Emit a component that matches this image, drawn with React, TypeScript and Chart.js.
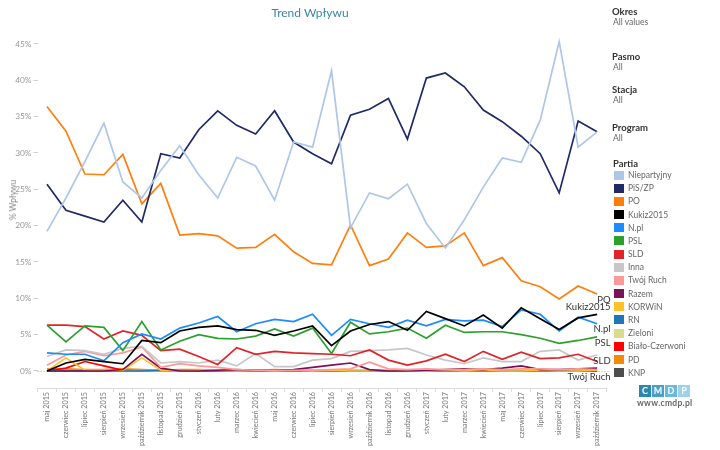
import React, { useEffect, useRef } from "react";
import { Chart, registerables } from "chart.js";

Chart.register(...registerables);

const months = [
  "maj 2015", "czerwiec 2015", "lipiec 2015", "sierpień 2015", "wrzesień 2015", "październik 2015",
  "listopad 2015", "grudzień 2015", "styczeń 2016", "luty 2016", "marzec 2016", "kwiecień 2016",
  "maj 2016", "czerwiec 2016", "lipiec 2016", "sierpień 2016", "wrzesień 2016", "październik 2016",
  "listopad 2016", "grudzień 2016", "styczeń 2017", "luty 2017", "marzec 2017", "kwiecień 2017",
  "maj 2017", "czerwiec 2017", "lipiec 2017", "sierpień 2017", "wrzesień 2017", "październik 2017",
];

const niepartyjny = [19.2, 23.8, 28.8, 34.1, 26.0, 23.8, 27.6, 31.0, 27.0, 23.8, 29.4, 28.2, 23.5, 31.5, 30.8, 41.3, 19.7, 24.5, 23.7, 25.7, 20.3, 16.9, 20.8, 25.3, 29.3, 28.7, 34.5, 45.3, 30.8, 32.9];
const pisZp = [25.7, 22.1, 21.3, 20.5, 23.5, 20.5, 29.9, 29.3, 33.2, 35.8, 33.8, 32.6, 35.8, 31.5, 29.9, 28.5, 35.2, 36.0, 37.5, 31.9, 40.3, 41.0, 39.1, 35.9, 34.3, 32.3, 29.9, 24.5, 34.4, 32.9];
const po = [36.4, 33.0, 27.1, 27.0, 29.8, 23.0, 25.8, 18.7, 18.9, 18.6, 16.9, 17.0, 18.8, 16.4, 14.8, 14.6, 20.1, 14.5, 15.4, 19.0, 17.0, 17.2, 19.0, 14.5, 15.6, 12.4, 11.6, 9.9, 11.7, 10.6];
const kukiz = [0, 1.1, 1.6, 1.3, 1.0, 4.2, 3.9, 5.5, 6.0, 6.2, 5.7, 5.6, 4.9, 5.5, 6.2, 3.5, 5.5, 6.4, 6.8, 5.6, 8.2, 7.2, 6.2, 7.7, 5.9, 8.7, 7.2, 5.7, 7.3, 7.8];
const npl = [2.5, 2.3, 2.3, 1.4, 3.9, 5.1, 4.4, 5.9, 6.6, 7.5, 5.4, 6.5, 7.1, 6.8, 7.8, 4.9, 7.1, 6.5, 6.0, 7.0, 6.2, 7.1, 6.9, 7.0, 6.1, 8.4, 7.8, 5.5, 7.4, 6.5];
const psl = [6.3, 4.0, 6.2, 6.0, 2.8, 6.8, 2.9, 4.1, 5.0, 4.5, 4.4, 4.8, 5.8, 4.8, 5.9, 2.4, 6.7, 5.1, 5.4, 5.9, 4.5, 6.3, 5.3, 5.4, 5.4, 5.0, 4.5, 3.8, 4.2, 4.7];
const sld = [6.3, 6.3, 6.1, 4.4, 5.5, 4.9, 2.8, 3.0, 2.0, 0.9, 3.2, 2.3, 2.7, 2.5, 2.4, 2.3, 2.1, 2.9, 1.5, 0.8, 1.4, 2.3, 1.3, 2.7, 1.6, 2.6, 1.7, 1.8, 2.3, 1.3];
const inna = [2.0, 2.9, 2.8, 2.3, 3.1, 3.4, 1.1, 1.3, 1.1, 1.5, 0.7, 2.4, 0.6, 0.6, 1.5, 1.7, 2.7, 2.8, 2.9, 3.1, 2.2, 1.5, 1.0, 1.8, 1.3, 1.3, 2.7, 2.9, 1.5, 2.2];
const twojRuch = [0.8, 2.2, 2.7, 2.1, 2.5, 3.3, 0.5, 1.0, 0.7, 0.5, 0.2, 0.1, 0.1, 0.1, 0.1, 0.2, 0.3, 1.2, 0.3, 0.2, 0.3, 0.2, 0.2, 0.3, 0.2, 0.3, 0.3, 0.2, 0.3, 0.2];
const razem = [0, 0, 0, 0, 0.2, 2.3, 0.4, 0, 0, 0.1, 0.2, 0.1, 0.1, 0.2, 0.5, 0.8, 1.1, 0.2, 0, 0, 0.1, 0.2, 0.3, 0.2, 0.4, 0.7, 0.2, 0.2, 0.3, 0.4];
const korwin = [0, 1.8, 0.1, 0.1, 0.1, 1.8, 0.1, 0, 0.1, 0.1, 0, 0.1, 0, 0.1, 0, 0.1, 0, 0, 0.1, 0, 0, 0.1, 0, 0.1, 0, 0, 0.1, 0, 0, 0.1];
const rn = [0, 0, 0, 0, 0, 0, 0.1, 0, 0, 0, 0, 0, 0, 0, 0, 0, 0, 0, 0, 0, 0, 0, 0, 0, 0, 0, 0, 0, 0, 0];
const zieloni = [0, 0, 0, 0, 0, 0, 0, 0, 0, 0, 0, 0, 0, 0, 0, 0, 0, 0, 0, 0, 0, 0, 0, 0, 0, 0, 0, 0, 0, 0.1];
const bialoCzerwoni = [0, 0.4, 1.3, 0.7, 0.1, 0, 0, 0, 0, 0, 0, 0, 0, 0, 0, 0, 0, 0, 0, 0, 0, 0, 0, 0, 0, 0, 0, 0, 0, 0];
const pd = [0.3, 0.3, 0.2, 0.2, 0.3, 0.2, 0.1, 0.2, 0.2, 0.1, 0.1, 0.1, 0.2, 0.1, 0.1, 0.1, 0.1, 0.1, 0.1, 0.1, 0.1, 0.1, 0.1, 0.1, 0.1, 0.1, 0.1, 0.1, 0.1, 0.1];
const knp = [0.1, 0, 0, 0, 0, 0, 0, 0, 0, 0, 0, 0, 0, 0, 0, 0, 0, 0, 0, 0, 0, 0, 0, 0, 0, 0, 0, 0, 0, 0];

const partyNames = ["Niepartyjny", "PiS/ZP", "PO", "Kukiz2015", "N.pl", "PSL", "SLD", "Inna", "Twój Ruch", "Razem", "KORWiN", "RN", "Zieloni", "Biało-Czerwoni", "PD", "KNP"];
const partyValues = [niepartyjny, pisZp, po, kukiz, npl, psl, sld, inna, twojRuch, razem, korwin, rn, zieloni, bialoCzerwoni, pd, knp];
const partyColors = ["#aec7e8", "#1f2a66", "#ff7f0e", "#000000", "#1a8cff", "#2ca02c", "#e0242a", "#c7c7c7", "#ff9896", "#7b1158", "#ffc125", "#1f77b4", "#dbdb8d", "#ff0000", "#f58a07", "#4d4d4d"];

const endLabelNames = ["PO", "Kukiz2015", "N.pl", "PSL", "SLD", "Twój Ruch"];
const yTicks = [0, 5, 10, 15, 20, 25, 30, 35, 40, 45];

const filters = [["Okres", "All values"], ["Pasmo", "All"], ["Stacja", "All"], ["Program", "All"]];
const filterTops = [6, 51, 84, 122];

const FONT = "Lato, 'Open Sans', sans-serif";

const endLabelOffsets: Record<string, number> = { PO: 6, Kukiz2015: -7, "N.pl": 5, PSL: 6, SLD: -1, "Twój Ruch": 7 };

const zeroLinePlugin = {
  id: "zeroLine",
  beforeDatasetsDraw(chart: any) {
    const { ctx, chartArea, scales } = chart;
    const y = Math.round(scales.y.getPixelForValue(0)) + 0.5;
    ctx.save();
    ctx.strokeStyle = "#a8a8a8";
    ctx.lineWidth = 1;
    ctx.setLineDash([1, 2]);
    ctx.beginPath();
    ctx.moveTo(chartArea.left, y);
    ctx.lineTo(chartArea.right + 4, y);
    ctx.stroke();
    ctx.restore();
  },
};

const endLabelPlugin = {
  id: "endLabels",
  afterDatasetsDraw(chart: any) {
    const { ctx, chartArea } = chart;
    ctx.save();
    ctx.font = `9.5px ${FONT}`;
    ctx.fillStyle = "#333";
    ctx.textAlign = "right";
    ctx.textBaseline = "middle";
    chart.data.datasets.forEach((ds: any, i: number) => {
      if (!endLabelNames.includes(ds.label)) return;
      const meta = chart.getDatasetMeta(i);
      const last = meta.data[meta.data.length - 1];
      ctx.fillText(ds.label, chartArea.right + 4, last.y + (endLabelOffsets[ds.label] || 0));
    });
    ctx.restore();
  },
};

export default function App() {
  const canvasRef = useRef<HTMLCanvasElement>(null);

  useEffect(() => {
    const canvas = canvasRef.current;
    if (!canvas) return;
    const datasets = partyNames.map((name, i) => ({
      label: name,
      data: partyValues[i],
      borderColor: partyColors[i],
      backgroundColor: partyColors[i],
      borderWidth: 1.7,
      pointRadius: 0,
      tension: 0,
      fill: false,
    }));
    const chart = new Chart(canvas, {
      type: "line",
      data: { labels: months, datasets },
      options: {
        animation: false,
        responsive: false,
        devicePixelRatio: 1,
        layout: { padding: { top: 33, right: 113.4, left: 0, bottom: 0 } },
        plugins: { legend: { display: false }, tooltip: { enabled: false } },
        scales: {
          x: {
            type: "category",
            offset: true,
            grid: { offset: true, drawOnChartArea: false, drawTicks: true, tickLength: 4, color: "#dcdcdc" },
            border: { display: true, color: "#dcdcdc" },
            ticks: {
              autoSkip: false,
              minRotation: 90,
              maxRotation: 90,
              padding: 0,
              color: "#777",
              font: { family: FONT, size: 7.2 },
            },
            afterFit: (s: any) => { s.height = 62; },
          },
          y: {
            min: -2.34,
            max: 46.5,
            afterBuildTicks: (s: any) => { s.ticks = yTicks.map((v) => ({ value: v })); },
            grid: { drawOnChartArea: false, drawTicks: true, tickLength: 4, color: "#cfcfcf" },
            border: { display: false },
            ticks: {
              padding: 2,
              color: "#999",
              font: { family: FONT, size: 8.3 },
              callback: (v: any) => `${v}%`,
            },
            afterFit: (s: any) => { s.width = 37.5; },
          },
        },
      },
      plugins: [zeroLinePlugin, endLabelPlugin],
    } as any);
    return () => chart.destroy();
  }, []);

  return (
    <div style={{ position: "absolute", left: 0, top: 0, width: 720, height: 450, background: "#fff", fontFamily: FONT, overflow: "hidden" }}>
      <canvas ref={canvasRef} width={720} height={450} style={{ position: "absolute", left: 0, top: 0, width: 720, height: 450 }} />
      <div style={{ position: "absolute", left: 210, width: 200, top: 5, textAlign: "center", fontSize: 12, color: "#3c86aa" }}>Trend Wpływu</div>
      <div style={{ position: "absolute", left: 13, top: 200, transform: "translate(-50%, -50%) rotate(-90deg)", fontSize: 8.5, color: "#888", whiteSpace: "nowrap" }}>% Wpływu</div>
      {filters.map(([h, v], i) => (
        <div key={h} style={{ position: "absolute", left: 612, top: filterTops[i], lineHeight: "11px" }}>
          <div style={{ fontSize: 9.5, fontWeight: 700, color: "#333" }}>{h}</div>
          <div style={{ fontSize: 8.5, color: "#666", marginLeft: 1 }}>{v}</div>
        </div>
      ))}
      <div style={{ position: "absolute", left: 613, top: 158, fontSize: 9.5, fontWeight: 700, color: "#333" }}>Partia</div>
      {partyNames.map((name, i) => (
        <div key={name} style={{ position: "absolute", left: 614, top: 170 + i * 13.18, height: 10, display: "flex", alignItems: "center" }}>
          <div style={{ width: 10, height: 9, background: partyColors[i] }} />
          <div style={{ marginLeft: 4, fontSize: 8.5, color: "#666", whiteSpace: "nowrap" }}>{name}</div>
        </div>
      ))}
      <div style={{ position: "absolute", left: 639, top: 385, display: "flex" }}>
        {["C", "M", "D", "P"].map((l, i) => (
          <div key={l} style={{ width: 12, height: 12, marginRight: 1, background: ["#2f87ad", "#48a0c8", "#69b8de", "#9dd1ec"][i], color: "#fff", fontSize: 9, fontWeight: 700, textAlign: "center", lineHeight: "12px" }}>{l}</div>
        ))}
      </div>
      <div style={{ position: "absolute", left: 637, top: 398, fontSize: 8.5, color: "#666", fontWeight: 700, letterSpacing: 0.3 }}>www.cmdp.pl</div>
    </div>
  );
}
